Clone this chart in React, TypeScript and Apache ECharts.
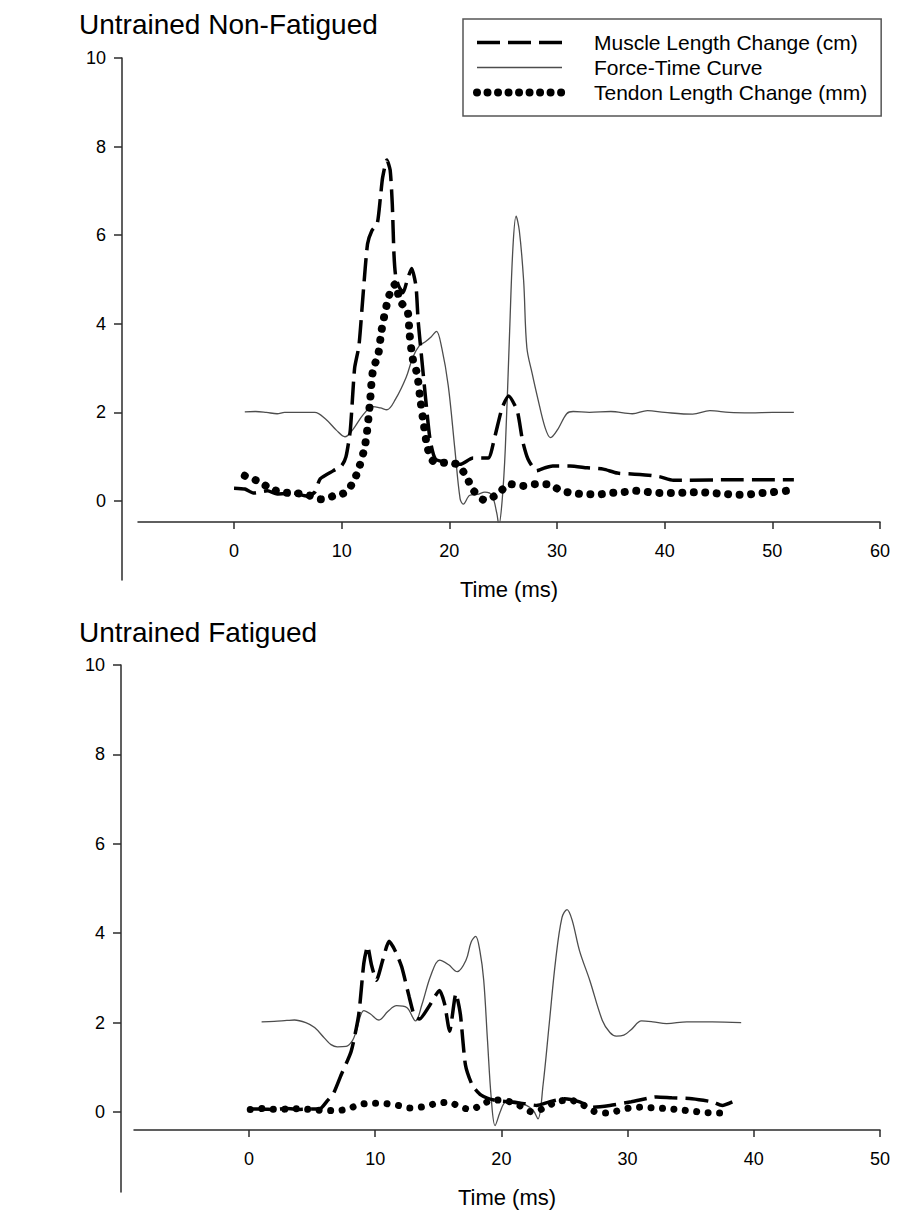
import React, { useEffect, useRef } from "react";
import * as echarts from "echarts";

// ---------- data (time in ms, value) ----------
const topMuscle: number[][] = [
  [0, 0.29], [1, 0.27], [1.8, 0.18], [3.1, 0.23], [4, 0.16], [5.5, 0.18], [6.8, 0.11], [7.5, 0.2],
  [8, 0.5], [9.2, 0.68], [10, 0.8], [10.4, 1.0], [10.8, 1.6], [11.2, 3.0], [11.6, 3.5], [12, 4.7],
  [12.4, 5.8], [12.8, 6.1], [13.3, 6.26], [13.6, 6.86], [13.8, 7.3], [14.2, 7.7], [14.5, 7.47],
  [14.7, 6.7], [14.85, 5.6], [15.0, 5.1], [15.3, 4.85], [15.7, 4.7], [16.1, 5.0], [16.5, 5.25],
  [16.9, 4.85], [17.1, 4.07], [17.4, 3.3], [17.8, 2.3], [18.2, 1.4], [18.7, 0.95], [19.8, 0.87],
  [21, 0.83], [22.2, 0.97], [23.6, 0.97], [24.2, 1.43], [24.9, 2.1], [25.5, 2.37], [26.3, 2.04],
  [26.8, 1.36], [27.3, 0.95], [28.1, 0.68], [28.9, 0.75], [29.6, 0.79], [31.2, 0.79], [32.8, 0.75],
  [34.3, 0.72], [35.6, 0.63], [37.7, 0.6], [39.5, 0.55], [40.8, 0.47], [42.3, 0.47], [46, 0.48],
  [50, 0.48], [52, 0.48],
];
const topForce: number[][] = [
  [1, 2.01], [2, 2.02], [3, 2.0], [4, 1.97], [4.7, 2.0], [6, 2.0], [7.5, 2.0], [8.5, 1.85], [9.5, 1.6],
  [10.3, 1.45], [11, 1.6], [12, 1.95], [12.9, 2.13], [13.6, 2.1], [14.2, 2.06], [15, 2.3], [16, 2.8],
  [16.6, 3.24], [17.2, 3.5], [17.8, 3.6], [18.3, 3.7], [18.8, 3.83], [19.3, 3.45], [19.9, 2.6],
  [20.5, 1.2], [21, 0.05], [21.3, -0.07], [21.9, 0.13], [22.6, 0.15], [23.3, 0.2], [23.95, 0.13],
  [24.4, -0.27], [24.6, -0.54], [24.9, 0.0], [25.2, 1.2], [25.6, 3.84], [25.9, 5.7], [26.2, 6.43],
  [26.5, 6.1], [26.9, 4.97], [27.2, 3.46], [27.7, 2.87], [28.2, 2.33], [28.9, 1.65], [29.4, 1.43],
  [30.1, 1.63], [30.9, 1.97], [31.5, 2.02], [33, 2.0], [35, 2.02], [37, 1.97], [38.4, 2.04], [40, 2.0],
  [42.6, 1.96], [44.2, 2.04], [46, 2.0], [48, 1.99], [50, 2.0], [52, 2.0],
];
const topTendon: number[][] = [
  [1, 0.57], [2.2, 0.45], [3.5, 0.27], [4.6, 0.19], [5.7, 0.18], [6.9, 0.13], [8.1, 0.04], [9.2, 0.11],
  [10.4, 0.2], [11.1, 0.45], [11.6, 0.74], [12.2, 1.3], [12.6, 2.15], [12.9, 2.94], [13.4, 3.32],
  [13.7, 3.85], [14.2, 4.45], [14.5, 4.7], [15, 4.9], [15.4, 4.52], [16.1, 4.3], [16.3, 3.78],
  [16.6, 3.21], [17, 2.87], [17.3, 2.3], [17.6, 1.77], [18, 1.18], [18.5, 0.9], [19.6, 0.86],
  [20.7, 0.83], [21.6, 0.54], [22.2, 0.25], [23.3, 0.02], [24.5, 0.16], [25.6, 0.38], [26.8, 0.34],
  [28, 0.38], [29.1, 0.38], [30.4, 0.23], [31.5, 0.18], [32.7, 0.15], [33.8, 0.15], [35, 0.18],
  [36.1, 0.2], [37.3, 0.23], [38.5, 0.2], [39.7, 0.18], [40.9, 0.18], [42, 0.19], [43.2, 0.2],
  [44.4, 0.18], [45.5, 0.16], [46.7, 0.14], [47.8, 0.15], [49, 0.18], [50.1, 0.2], [51.3, 0.23],
];

const botMuscle: number[][] = [
  [0, 0.07], [1, 0.07], [2, 0.06], [3, 0.08], [4, 0.06], [5, 0.07], [5.6, 0.07], [6.2, 0.25],
  [6.7, 0.42], [7.3, 0.83], [8.1, 1.36], [8.7, 2.19], [9.1, 3.33], [9.4, 3.71], [9.7, 3.3],
  [10.1, 2.95], [10.6, 3.4], [11.1, 3.82], [11.6, 3.6], [12.1, 3.25], [12.7, 2.57], [13.1, 2.16],
  [13.5, 2.08], [14.3, 2.38], [15.1, 2.72], [15.5, 2.42], [15.9, 1.81], [16.4, 2.65], [16.75, 2.19],
  [17.15, 1.06], [17.7, 0.6], [18.4, 0.38], [19.4, 0.27], [20.6, 0.23], [21.8, 0.19], [22.8, 0.15],
  [23.8, 0.23], [25, 0.3], [26.2, 0.23], [27.2, 0.11], [28.6, 0.15], [30.3, 0.23], [32.3, 0.34],
  [33.5, 0.32], [35.1, 0.3], [36.7, 0.23], [37.5, 0.15], [38.3, 0.23],
];
const botForce: number[][] = [
  [1, 2.02], [2, 2.03], [3, 2.05], [3.6, 2.06], [4.5, 2.0], [5.2, 1.89], [6, 1.65], [6.5, 1.51],
  [7, 1.46], [7.7, 1.47], [8.2, 1.6], [8.5, 1.81], [9.1, 2.27], [9.6, 2.2], [10.3, 2.06], [11, 2.25],
  [11.7, 2.38], [12.5, 2.34], [13.2, 2.04], [13.7, 2.4], [14.4, 3.05], [15.1, 3.4], [15.8, 3.3],
  [16.5, 3.14], [17.2, 3.4], [17.6, 3.8], [17.96, 3.93], [18.3, 3.6], [18.6, 2.95], [18.9, 1.6],
  [19.2, 0.3], [19.5, -0.3], [19.9, 0.0], [20.3, 0.22], [21, 0.25], [21.8, 0.18], [22.5, 0.05],
  [22.9, -0.15], [23.3, 0.6], [23.8, 2.0], [24.3, 3.4], [24.8, 4.35], [25.2, 4.53], [25.6, 4.3],
  [26.2, 3.6], [27, 2.95], [28, 2.05], [28.6, 1.78], [29.1, 1.7], [29.7, 1.72], [30.3, 1.85],
  [31.1, 2.04], [32, 2.02], [33.1, 1.98], [34.7, 2.02], [36.7, 2.02], [39, 2.0],
];
const botTendon: number[][] = [
  [0.1, 0.06], [1.1, 0.08], [2.1, 0.06], [3.1, 0.07], [4.1, 0.08], [5.0, 0.05], [6.0, 0.04],
  [6.9, 0.03], [7.9, 0.08], [8.8, 0.17], [9.8, 0.2], [10.8, 0.19], [11.8, 0.15], [12.8, 0.09],
  [13.8, 0.12], [14.8, 0.19], [15.8, 0.22], [16.8, 0.11], [17.6, 0.06], [18.5, 0.18], [19.4, 0.27],
  [20.4, 0.25], [21.4, 0.15], [22.5, 0.0], [23.3, 0.08], [24.4, 0.23], [25.4, 0.27], [26.4, 0.17],
  [27.3, 0.02], [28.3, -0.02], [29.1, 0.02], [30.1, 0.09], [31.1, 0.11], [32.1, 0.09], [33.1, 0.08],
  [34.2, 0.05], [35.2, 0.02], [36.2, -0.01], [37.2, -0.02], [38.2, -0.02],
];

const topXTicks = [0, 10, 20, 30, 40, 50, 60];
const botXTicks = [0, 10, 20, 30, 40, 50];
const yTicks = [0, 2, 4, 6, 8, 10];
const seriesNames = ["Muscle Length Change (cm)", "Force-Time Curve", "Tendon Length Change (mm)"];
const titles = ["Untrained Non-Fatigued", "Untrained Fatigued"];
const xAxisName = "Time (ms)";

const FONT = 'Arial, "Liberation Sans", sans-serif';
const AXIS_COLOR = "#2b2b2b";
const FORCE_COLOR = "#4d4d4d";
const MUSCLE_DASH = [23, 8];
const TENDON_DOT = [0.01, 11.5];

function xAxisVisible(gridIndex: number, min: number, max: number, ticks: number[]) {
  return {
    type: "value",
    gridIndex,
    min,
    max,
    axisLine: { show: true, onZero: false, lineStyle: { color: AXIS_COLOR, width: 1.5 } },
    axisTick: { show: true, length: 7, customValues: ticks, lineStyle: { color: AXIS_COLOR, width: 1.5 } },
    axisLabel: { show: true, customValues: ticks, margin: 20, fontSize: 18, color: "#000", fontFamily: FONT },
    splitLine: { show: false },
    name: xAxisName,
    nameLocation: "middle",
    nameGap: 56,
    nameTextStyle: { fontSize: 22, color: "#000", fontFamily: FONT },
  };
}
function hiddenX(gridIndex: number) {
  return { type: "value", gridIndex, min: 0, max: 1, show: false };
}
function hiddenY(gridIndex: number, min: number, max: number) {
  return { type: "value", gridIndex, min, max, show: false };
}
function yAxisVisible(gridIndex: number, min: number, max: number) {
  return {
    type: "value",
    gridIndex,
    min,
    max,
    axisLine: { show: true, onZero: false, lineStyle: { color: AXIS_COLOR, width: 1.5 } },
    axisTick: { show: true, length: 8, customValues: yTicks, lineStyle: { color: AXIS_COLOR, width: 1.5 } },
    axisLabel: { show: true, customValues: yTicks, margin: 16, fontSize: 18, color: "#000", fontFamily: FONT },
    splitLine: { show: false },
  };
}

function makeSeries(idx: number, muscle: number[][], force: number[][], tendon: number[][], dot: number) {
  return [
    {
      name: seriesNames[0],
      type: "line",
      xAxisIndex: idx,
      yAxisIndex: idx,
      data: muscle,
      showSymbol: false,
      symbol: "none",
      smooth: 0.2,
      lineStyle: { color: "#000", width: 3.5, type: MUSCLE_DASH },
      itemStyle: { color: "#000" },
      z: 3,
    },
    {
      name: seriesNames[1],
      type: "line",
      xAxisIndex: idx,
      yAxisIndex: idx,
      data: force,
      showSymbol: false,
      symbol: "none",
      smooth: 0.35,
      lineStyle: { color: FORCE_COLOR, width: 1.3 },
      itemStyle: { color: FORCE_COLOR },
      z: 2,
    },
    {
      name: seriesNames[2],
      type: "line",
      xAxisIndex: idx,
      yAxisIndex: idx,
      data: tendon,
      showSymbol: false,
      symbol: "none",
      smooth: 0.3,
      lineStyle: { color: "#000", width: dot, type: TENDON_DOT, cap: "round" },
      itemStyle: { color: "#000" },
      z: 4,
    },
  ];
}

export default function App() {
  const ref = useRef<HTMLDivElement>(null);
  useEffect(() => {
    if (!ref.current) return;
    const chart = echarts.init(ref.current, undefined, { renderer: "svg" });
    const hiddenSymbol = { opacity: 0, borderWidth: 0 };
    const option: any = {
      animation: false,
      backgroundColor: "#fff",
      title: [
        { text: titles[0], left: 74, top: 5, textStyle: { fontSize: 28, fontWeight: "normal", color: "#000", fontFamily: FONT } },
        { text: titles[1], left: 74, top: 613, textStyle: { fontSize: 28, fontWeight: "normal", color: "#000", fontFamily: FONT } },
      ],
      legend: {
        show: true,
        orient: "vertical",
        left: 463,
        top: 19,
        data: [
          { name: seriesNames[0], itemStyle: hiddenSymbol, lineStyle: { color: "#000", width: 3.5, type: MUSCLE_DASH } },
          { name: seriesNames[1], itemStyle: hiddenSymbol, lineStyle: { color: FORCE_COLOR, width: 1.3, type: "solid" } },
          { name: seriesNames[2], itemStyle: hiddenSymbol, lineStyle: { color: "#000", width: 8, type: [0.01, 10.5], cap: "round" } },
        ],
        itemWidth: 85,
        itemHeight: 14,
        itemGap: 4,
        padding: [13, 14, 13, 10],
        borderColor: "#555",
        borderWidth: 1.5,
        selectedMode: false,
        textStyle: { fontSize: 21, color: "#000", fontFamily: FONT, lineHeight: 20, padding: [0, 0, 0, 27] },
      },
      grid: [
        { left: 138, top: 58, width: 742, height: 464 },
        { left: 122, top: 58, width: 10, height: 522 },
        { left: 134, top: 665, width: 746, height: 465 },
        { left: 121, top: 665, width: 10, height: 527 },
      ],
      xAxis: [
        xAxisVisible(0, -8.92, 60, topXTicks),
        hiddenX(1),
        xAxisVisible(2, -9.11, 50, botXTicks),
        hiddenX(3),
      ],
      yAxis: [
        hiddenY(0, -0.474, 10),
        yAxisVisible(1, -1.78, 10),
        hiddenY(2, -0.4, 10),
        yAxisVisible(3, -1.79, 10),
      ],
      series: [
        ...makeSeries(0, topMuscle, topForce, topTendon, 8),
        ...makeSeries(2, botMuscle, botForce, botTendon, 7),
      ],
    };
    chart.setOption(option);
    return () => chart.dispose();
  }, []);
  return <div ref={ref} style={{ position: "absolute", left: 0, top: 0, width: 907, height: 1218 }} />;
}
